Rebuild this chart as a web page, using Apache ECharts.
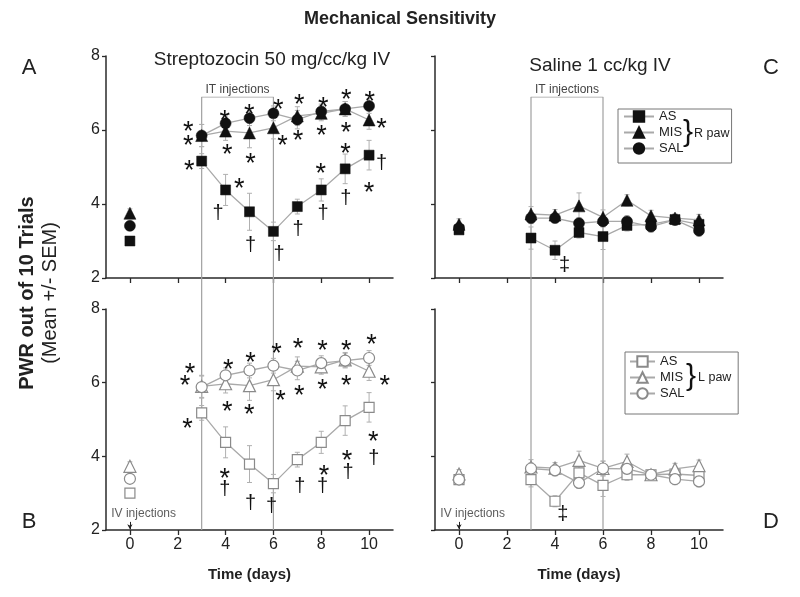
<!DOCTYPE html>
<html><head><meta charset="utf-8">
<script src="https://cdn.jsdelivr.net/npm/echarts@6/dist/echarts.min.js"></script>
<style>html,body{margin:0;padding:0;background:#fff}#c{width:800px;height:597px}</style>
</head><body><div id="c"></div>
<script>
// ---------- DATA ----------
const days = [0, 3, 4, 5, 6, 7, 8, 9, 10];
const groupNames = ['AS', 'MIS', 'SAL'];
const xTicks = [0, 2, 4, 6, 8, 10];

// Streptozocin, right paw (panel A)
const stzR_AS  = [3.00, 5.16, 4.38, 3.79, 3.26, 3.93, 4.38, 4.95, 5.32];
const stzR_MIS = [3.75, 5.85, 5.97, 5.92, 6.06, 6.38, 6.45, 6.57, 6.27];
const stzR_SAL = [3.41, 5.85, 6.18, 6.32, 6.45, 6.28, 6.50, 6.57, 6.65];
const stzR_AS_err  = [0.10, 0.20, 0.42, 0.50, 0.25, 0.20, 0.30, 0.40, 0.40];
const stzR_MIS_err = [0.12, 0.30, 0.25, 0.40, 0.30, 0.25, 0.20, 0.20, 0.25];
const stzR_SAL_err = [0.10, 0.30, 0.20, 0.20, 0.20, 0.25, 0.20, 0.20, 0.20];
// Streptozocin, left paw (panel B)
const stzL_AS  = [3.00, 5.18, 4.38, 3.79, 3.26, 3.91, 4.38, 4.97, 5.33];
const stzL_MIS = [3.73, 5.90, 5.97, 5.92, 6.08, 6.45, 6.43, 6.62, 6.31];
const stzL_SAL = [3.39, 5.88, 6.20, 6.33, 6.46, 6.33, 6.53, 6.60, 6.67];
const stzL_AS_err  = [0.10, 0.20, 0.42, 0.50, 0.25, 0.20, 0.30, 0.40, 0.40];
const stzL_MIS_err = [0.12, 0.30, 0.25, 0.40, 0.30, 0.25, 0.20, 0.20, 0.25];
const stzL_SAL_err = [0.10, 0.30, 0.20, 0.20, 0.20, 0.25, 0.20, 0.20, 0.20];
// Saline, right paw (panel C)
const salR_AS  = [3.30, 3.08, 2.75, 3.23, 3.12, 3.42, 3.45, 3.58, 3.45];
const salR_MIS = [3.45, 3.73, 3.70, 3.95, 3.64, 4.10, 3.68, 3.62, 3.57];
const salR_SAL = [3.35, 3.62, 3.62, 3.48, 3.53, 3.53, 3.39, 3.57, 3.28];
const salR_AS_err  = [0.10, 0.30, 0.25, 0.15, 0.35, 0.15, 0.15, 0.15, 0.15];
const salR_MIS_err = [0.15, 0.20, 0.15, 0.35, 0.20, 0.15, 0.15, 0.10, 0.15];
const salR_SAL_err = [0.10, 0.15, 0.10, 0.15, 0.15, 0.15, 0.15, 0.15, 0.15];
// Saline, left paw (panel D)
const salL_AS  = [3.37, 3.37, 2.78, 3.55, 3.21, 3.50, 3.50, 3.52, 3.48];
const salL_MIS = [3.52, 3.71, 3.68, 3.89, 3.67, 3.86, 3.50, 3.66, 3.75];
const salL_SAL = [3.37, 3.67, 3.62, 3.28, 3.67, 3.66, 3.50, 3.38, 3.32];
const salL_AS_err  = [0.12, 0.20, 0.15, 0.20, 0.30, 0.15, 0.10, 0.15, 0.15];
const salL_MIS_err = [0.12, 0.20, 0.15, 0.25, 0.20, 0.20, 0.10, 0.15, 0.15];
const salL_SAL_err = [0.10, 0.15, 0.15, 0.15, 0.20, 0.15, 0.10, 0.15, 0.15];

// significance marks [day, value, glyph]
const annA = [
  [2.44,6.14,'*'],[2.44,5.74,'*'],[2.48,5.07,'*'],
  [3.97,6.42,'*'],[4.07,5.52,'*'],[4.57,4.60,'*'],[3.69,3.75,'†'],
  [4.99,6.59,'*'],[5.04,5.25,'*'],[5.04,2.87,'†'],
  [6.20,6.73,'*'],[6.38,5.75,'*'],[6.24,2.63,'†'],
  [7.08,6.86,'*'],[7.03,5.88,'*'],[7.03,3.32,'†'],
  [8.08,6.79,'*'],[8.01,6.03,'*'],[7.98,4.98,'*'],[8.08,3.75,'†'],
  [9.05,7.00,'*'],[9.03,6.09,'*'],[9.01,5.54,'*'],[9.03,4.15,'†'],
  [10.03,6.95,'*'],[10.52,6.21,'*'],[10.52,5.09,'†'],[10.00,4.47,'*']
];
const annB = [
  [2.51,6.43,'*'],[2.30,6.08,'*'],[2.41,4.92,'*'],
  [4.11,6.53,'*'],[4.07,5.38,'*'],[3.97,3.57,'*'],[3.97,3.10,'†'],
  [5.04,6.73,'*'],[4.99,5.31,'*'],[5.04,2.71,'†'],
  [6.13,6.96,'*'],[6.30,5.69,'*'],[5.92,2.64,'†'],
  [7.03,7.11,'*'],[7.08,5.83,'*'],[7.10,3.19,'†'],
  [8.05,7.03,'*'],[8.05,5.99,'*'],[8.11,3.66,'*'],[8.05,3.17,'†'],
  [9.05,7.03,'*'],[9.05,6.10,'*'],[9.08,4.05,'*'],[9.12,3.55,'†'],
  [10.10,7.21,'*'],[10.65,6.10,'*'],[10.17,4.56,'*'],[10.20,3.95,'†']
];
const annC = [[4.40,2.34,'‡']];
const annD = [[4.33,2.42,'‡']];

const itText = 'IT injections';
const ivText = 'IV injections';
const itWindow = [3, 6];

// ---------- STYLE / LAYOUT ----------
const C_AX = '#2a2a2a', C_LINE = '#a9a9a9', C_OPEN = '#8a8a8a', C_FILL = '#111', C_ERR = '#b0b0b0';
const syms = ['rect', 'triangle', 'circle'];
const symSizes = [10, 12, 11];
const FONT = 'Liberation Sans, Arial, sans-serif';

const grids = [
  {left:106, top:56, width:287, height:222},   // A
  {left:106, top:309, width:287, height:221},  // B
  {left:435, top:56, width:288, height:222},   // C
  {left:435, top:309, width:288, height:221},  // D
  {left:106, top:97, width:287, height:433},   // overlay left (IT lines)
  {left:435, top:97, width:288, height:433}    // overlay right
];

function xAx(gi, showLabel) {
  return {
    gridIndex: gi, type:'value', min:-1, max:11,
    axisLine:{show:true, onZero:false, lineStyle:{color:C_AX, width:1.5}},
    axisTick:{show:true, customValues:xTicks, length:5, lineStyle:{color:C_AX, width:1.3}},
    axisLabel:{show:showLabel, customValues:xTicks, fontSize:16, color:'#222', fontFamily:FONT, margin:7},
    splitLine:{show:false},
    name: showLabel ? 'Time (days)' : '', nameLocation:'middle', nameGap:37,
    nameTextStyle:{fontSize:15, fontWeight:'bold', color:'#222', fontFamily:FONT}
  };
}
function yAx(gi, showLabel) {
  return {
    gridIndex: gi, type:'value', min:2, max:8, interval:2,
    axisLine:{show:true, onZero:false, lineStyle:{color:C_AX, width:1.5}},
    axisTick:{show:true, length:4, lineStyle:{color:C_AX, width:1.3}},
    axisLabel:{show:showLabel, fontSize:16, color:'#222', fontFamily:FONT, margin:6},
    splitLine:{show:false}
  };
}
const xAxes = [xAx(0,false), xAx(1,true), xAx(2,false), xAx(3,true),
  {gridIndex:4, type:'value', min:-1, max:11, show:false},
  {gridIndex:5, type:'value', min:-1, max:11, show:false}];
const yAxes = [yAx(0,true), yAx(1,true), yAx(2,false), yAx(3,false),
  {gridIndex:4, type:'value', min:0, max:1, show:false},
  {gridIndex:5, type:'value', min:0, max:1, show:false}];

function errRender(params, api) {
  const x = api.value(0), lo = api.value(1), hi = api.value(2);
  const p1 = api.coord([x, hi]), p2 = api.coord([x, lo]);
  const w = 2.5, st = {stroke:C_ERR, lineWidth:1};
  return {type:'group', children:[
    {type:'line', shape:{x1:p1[0], y1:p1[1], x2:p2[0], y2:p2[1]}, style:st},
    {type:'line', shape:{x1:p1[0]-w, y1:p1[1], x2:p1[0]+w, y2:p1[1]}, style:st},
    {type:'line', shape:{x1:p2[0]-w, y1:p2[1], x2:p2[0]+w, y2:p2[1]}, style:st}
  ]};
}
const annData = {annA, annB, annC, annD};
function textRender(params, api) {
  const p = api.coord([api.value(0), api.value(1)]);
  const g = annData[params.seriesName][params.dataIndex][2];
  const star = g === '*';
  const fs = star ? 27 : 20;
  return {type:'text', x:p[0], y:p[1] + (star ? fs*0.27 : 0), style:{
    text:g, fontSize:fs, fill:'#111', fontFamily:FONT, align:'center', verticalAlign:'middle'}};
}

// open (left paw) series get a trailing space so their legend shows open symbols
function panelSeries(gi, vals, errs, open) {
  const out = [];
  groupNames.forEach((nm0, k) => {
    const nm = open ? nm0 + ' ' : nm0;
    const v = vals[k], e = errs[k];
    const pts = days.map((d, i) => [d, v[i]]);
    const itemStyle = open
      ? {color:'#fff', borderColor:C_OPEN, borderWidth:1.2, opacity:1}
      : {color:C_FILL, borderColor:C_FILL, borderWidth:0.5, opacity:1};
    out.push({type:'custom', xAxisIndex:gi, yAxisIndex:gi, renderItem:errRender, silent:true, z:1,
      data: days.map((d, i) => [d, v[i]-e[i], v[i]+e[i]])});
    out.push({name:nm, type:'line', xAxisIndex:gi, yAxisIndex:gi, data:pts.slice(1),
      symbol:syms[k], symbolSize:symSizes[k], showAllSymbol:true, itemStyle,
      lineStyle:{color:C_LINE, width:1.3}, z:2+k, silent:true, animation:false});
    out.push({name:nm+'-base', type:'scatter', xAxisIndex:gi, yAxisIndex:gi, data:[pts[0]],
      symbol:syms[k], symbolSize:symSizes[k], itemStyle, z:2+k, silent:true, animation:false});
  });
  return out;
}
function annSeries(gi, key) {
  return {name:key, type:'custom', xAxisIndex:gi, yAxisIndex:gi, renderItem:textRender,
    data: annData[key].map(a => [a[0], a[1]]), z:10, silent:true};
}
function itSeries(gi) {
  return {type:'line', xAxisIndex:gi, yAxisIndex:gi, symbol:'none', silent:true, z:0,
    lineStyle:{color:'#a0a0a0', width:1.2}, animation:false,
    data:[[itWindow[0],0],[itWindow[0],1],[itWindow[1],1],[itWindow[1],0]],
    markPoint:{symbol:'rect', symbolSize:1, itemStyle:{color:'transparent'},
      label:{show:true, formatter:itText, position:'top', distance:1, fontSize:12, color:'#444', fontFamily:FONT},
      data:[{coord:[(itWindow[0]+itWindow[1])/2, 1]}]}
  };
}
function ivSeries(gi) {
  return {type:'scatter', xAxisIndex:gi, yAxisIndex:gi, symbolSize:1, itemStyle:{color:'transparent'},
    silent:true, data:[[-0.8, 2.45]],
    label:{show:true, formatter:ivText, position:'right', distance:0, fontSize:12, color:'#333', fontFamily:FONT},
    markLine:{silent:true, symbol:['none','arrow'], symbolSize:[4,5], label:{show:false},
      lineStyle:{color:'#222', width:1, type:'solid'},
      data:[[{coord:[0, 2.22]},{coord:[0, 2.02]}]]}
  };
}

const series = [].concat(
  itSeries(4), itSeries(5),
  panelSeries(0, [stzR_AS, stzR_MIS, stzR_SAL], [stzR_AS_err, stzR_MIS_err, stzR_SAL_err], false),
  panelSeries(1, [stzL_AS, stzL_MIS, stzL_SAL], [stzL_AS_err, stzL_MIS_err, stzL_SAL_err], true),
  panelSeries(2, [salR_AS, salR_MIS, salR_SAL], [salR_AS_err, salR_MIS_err, salR_SAL_err], false),
  panelSeries(3, [salL_AS, salL_MIS, salL_SAL], [salL_AS_err, salL_MIS_err, salL_SAL_err], true),
  annSeries(0,'annA'), annSeries(1,'annB'), annSeries(2,'annC'), annSeries(3,'annD'),
  ivSeries(1), ivSeries(3)
);

function legendCfg(left, top, open, pad, iw) {
  return {
    left, top, orient:'vertical', selectedMode:false, itemWidth:iw, itemHeight:13, itemGap:3,
    padding:pad, borderColor:'#777', borderWidth:1,
    textStyle:{fontSize:13, color:'#222', fontFamily:FONT},
    data: groupNames.map(n => open ? n + ' ' : n)
  };
}

const txt = (x, y, text, o) => ({type:'text', x, y, silent:true,
  style:Object.assign({text, fill:'#222', fontFamily:FONT, align:'center', verticalAlign:'middle'}, o||{})});

const option = {
  animation:false,
  grid: grids,
  xAxis: xAxes,
  yAxis: yAxes,
  legend: [legendCfg(618, 109, false, [1,48,8,5], 30), legendCfg(625, 352, true, [3,50,14,4], 25)],
  series,
  graphic: [
    txt(400, 19, 'Mechanical Sensitivity', {fontSize:18, fontWeight:'bold'}),
    txt(272, 60, 'Streptozocin 50 mg/cc/kg IV', {fontSize:19}),
    txt(600, 66, 'Saline 1 cc/kg IV', {fontSize:19}),
    txt(29, 68, 'A', {fontSize:22}),
    txt(29, 522, 'B', {fontSize:22}),
    txt(771, 68, 'C', {fontSize:22}),
    txt(771, 522, 'D', {fontSize:22}),
    Object.assign(txt(27, 293, 'PWR out of 10 Trials', {fontSize:20, fontWeight:'bold'}), {rotation:Math.PI/2}),
    Object.assign(txt(50, 293, '(Mean +/- SEM)', {fontSize:20}), {rotation:Math.PI/2}),
    txt(688, 133, '}', {fontSize:30, fill:'#111'}),
    txt(694, 134, 'R paw', {fontSize:12.5, align:'left'}),
    txt(691, 377, '}', {fontSize:30, fill:'#111'}),
    txt(698, 378, 'L paw', {fontSize:12.5, align:'left'})
  ]
};
const chart = echarts.init(document.getElementById('c'), null, {renderer:'canvas'});
chart.setOption(option);
</script></body></html>
